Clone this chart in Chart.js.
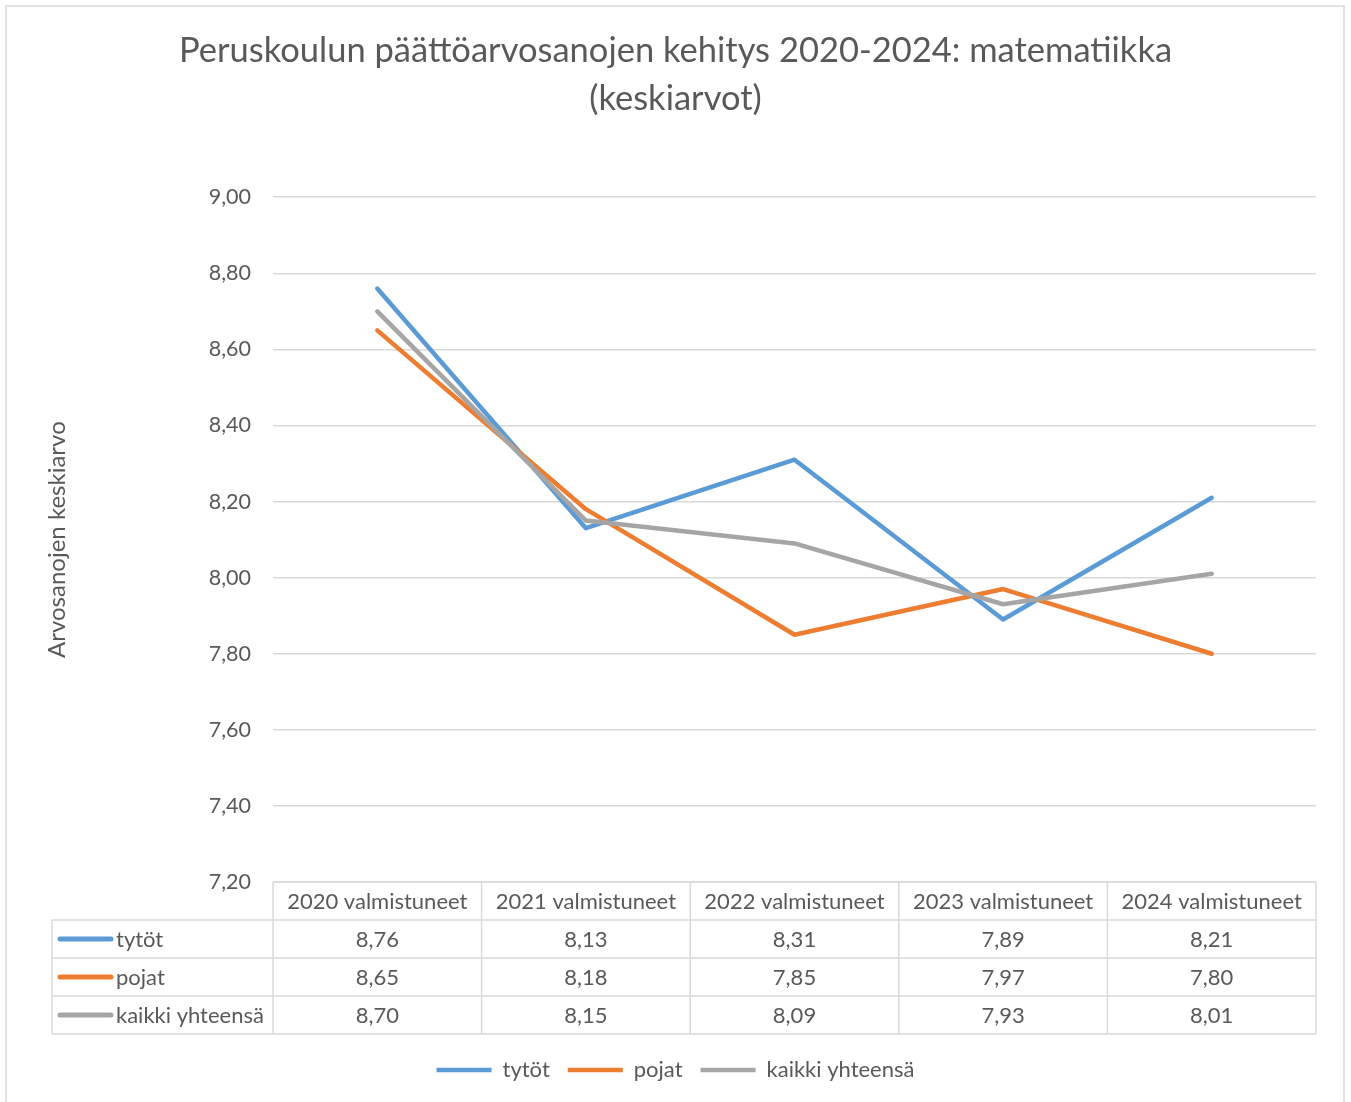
<!DOCTYPE html>
<html>
<head>
<meta charset="utf-8">
<script src="https://cdn.jsdelivr.net/npm/chart.js@4.4.0/dist/chart.umd.min.js"></script>
<style>
  html, body { margin: 0; padding: 0; background: #fff; }
</style>
</head>
<body>
<canvas id="myChart" width="1351" height="1102"></canvas>
<script>
const categories = ['2020 valmistuneet', '2021 valmistuneet', '2022 valmistuneet', '2023 valmistuneet', '2024 valmistuneet'];
const seriesNames = ['tytöt', 'pojat', 'kaikki yhteensä'];
const tytot = [8.76, 8.13, 8.31, 7.89, 8.21];
const pojat = [8.65, 8.18, 7.85, 7.97, 7.80];
const kaikki = [8.70, 8.15, 8.09, 7.93, 8.01];
const yMin = 7.2;
const yMax = 9.0;
const yStep = 0.2;

const colors = ['#5B9BD5', '#ED7D31', '#A5A5A5'];
const textColor = '#595959';
const gridColor = '#D9D9D9';
const fontFamily = 'Lato, "Open Sans", sans-serif';

const fmt = v => v.toFixed(2).replace('.', ',');

Chart.defaults.font.family = fontFamily;
Chart.defaults.color = textColor;

// white background + outer frame
const frame = {
  id: 'frame',
  beforeDraw(chart) {
    const ctx = chart.ctx;
    ctx.save();
    ctx.fillStyle = '#fff';
    ctx.fillRect(0, 0, chart.width, chart.height);
    ctx.strokeStyle = gridColor;
    ctx.lineWidth = 1.5;
    ctx.strokeRect(6, 6, chart.width - 13, chart.height + 20);
    ctx.restore();
  }
};

// excel style data table under the plot
const dataTable = {
  id: 'dataTable',
  afterDraw(chart) {
    const { ctx, chartArea } = chart;
    const x = chart.scales.x;
    const n = categories.length;
    const colW = (chartArea.right - chartArea.left) / n;
    const rowH = 38;
    const top = chartArea.bottom;
    const tableLeft = 52;
    const rows = [tytot, pojat, kaikki];

    ctx.save();
    ctx.strokeStyle = gridColor;
    ctx.lineWidth = 1.5;
    ctx.fillStyle = textColor;
    ctx.font = '22px ' + fontFamily;
    ctx.textBaseline = 'middle';

    ctx.beginPath();
    for (let i = 0; i <= n; i++) {
      const px = chartArea.left + i * colW;
      ctx.moveTo(px, top);
      ctx.lineTo(px, top + rowH * 4);
    }
    ctx.moveTo(chartArea.left, top);
    ctx.lineTo(chartArea.right, top);
    for (let r = 1; r <= 4; r++) {
      ctx.moveTo(tableLeft, top + r * rowH);
      ctx.lineTo(chartArea.right, top + r * rowH);
    }
    ctx.moveTo(tableLeft, top + rowH);
    ctx.lineTo(tableLeft, top + rowH * 4);
    ctx.stroke();

    ctx.textAlign = 'center';
    categories.forEach((c, i) => {
      ctx.fillText(c, x.getPixelForValue(i), top + rowH / 2 + 1);
    });

    rows.forEach((vals, r) => {
      const cy = top + (r + 1) * rowH + rowH / 2 + 1;
      vals.forEach((v, i) => {
        ctx.textAlign = 'center';
        ctx.fillText(fmt(v), x.getPixelForValue(i), cy);
      });
      // legend key
      ctx.save();
      ctx.strokeStyle = colors[r];
      ctx.lineWidth = 5;
      ctx.lineCap = 'round';
      ctx.beginPath();
      ctx.moveTo(60, cy - 1);
      ctx.lineTo(111, cy - 1);
      ctx.stroke();
      ctx.restore();
      ctx.textAlign = 'left';
      ctx.fillText(seriesNames[r], 116, cy);
    });
    ctx.restore();
  }
};

const mkSet = (label, data, i, order) => ({
  label: label,
  data: data,
  borderColor: colors[i],
  backgroundColor: colors[i],
  borderWidth: 4.5,
  borderCapStyle: 'round',
  borderJoinStyle: 'round',
  pointRadius: 0,
  pointStyle: 'line',
  tension: 0,
  order: order
});

const ctx = document.getElementById('myChart').getContext('2d');
var myChart = new Chart(ctx, {
  type: 'line',
  data: {
    labels: categories,
    datasets: [
      mkSet(seriesNames[0], tytot, 0, 3),
      mkSet(seriesNames[1], pojat, 1, 2),
      mkSet(seriesNames[2], kaikki, 2, 1)
    ]
  },
  options: {
    responsive: false,
    animation: false,
    layout: { padding: { top: 6, left: 35, right: 35, bottom: 11 } },
    plugins: {
      title: {
        display: true,
        text: ['Peruskoulun päättöarvosanojen kehitys 2020-2024: matematiikka', '(keskiarvot)'],
        color: textColor,
        font: { size: 34.5, weight: 'normal', lineHeight: 1.38 },
        padding: { top: 21, bottom: 75 }
      },
      legend: {
        position: 'bottom',
        labels: {
          usePointStyle: true,
          pointStyle: 'line',
          pointStyleWidth: 55,
          font: { size: 22 },
          color: textColor,
          padding: 18,
          sort: (a, b) => a.datasetIndex - b.datasetIndex
        }
      },
      tooltip: { enabled: false }
    },
    scales: {
      x: {
        offset: true,
        ticks: { display: false },
        grid: { display: false },
        border: { display: false },
        afterFit(scale) { scale.height = 159; }
      },
      y: {
        min: yMin,
        max: yMax,
        ticks: {
          stepSize: yStep,
          font: { size: 21.5 },
          color: textColor,
          padding: 22,
          callback: v => fmt(v)
        },
        grid: { color: gridColor, lineWidth: 1.5, drawTicks: false },
        border: { display: false },
        title: {
          display: true,
          text: 'Arvosanojen keskiarvo',
          color: textColor,
          font: { size: 24 },
          padding: { top: 8, bottom: 0 }
        },
        afterFit(scale) { scale.width = 238; }
      }
    }
  },
  plugins: [frame, dataTable]
});
</script>
</body>
</html>
